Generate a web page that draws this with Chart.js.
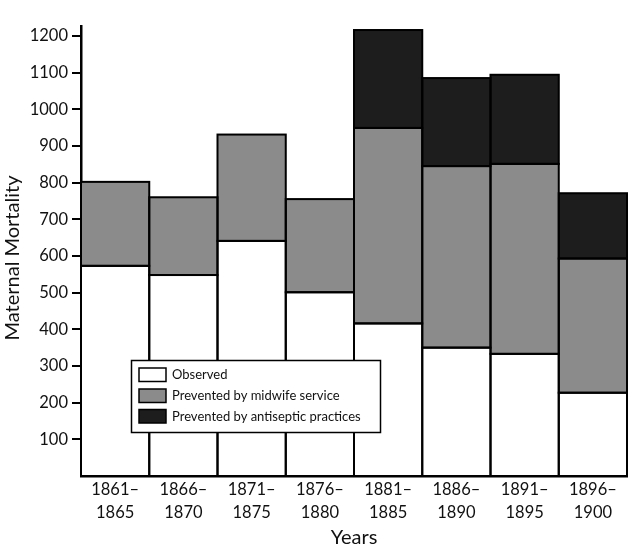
<!DOCTYPE html>
<html>
<head>
<meta charset="utf-8">
<script src="https://cdn.jsdelivr.net/npm/chart.js@4"></script>
<style>
  html, body { margin: 0; padding: 0; background: #fff; }
  #wrap { width: 640px; height: 551px; position: relative; }
</style>
</head>
<body>
<div id="wrap"><canvas id="c" width="640" height="551"></canvas></div>
<script>
const categories = [["1861–","1865"],["1866–","1870"],["1871–","1875"],["1876–","1880"],["1881–","1885"],["1886–","1890"],["1891–","1895"],["1896–","1900"]];
const observed = [573, 548, 641, 501, 416, 350, 333, 227];
const preventedMidwife = [229, 212, 290, 254, 533, 495, 518, 366];
const preventedAntiseptic = [null, null, null, null, 267, 240, 243, 178];
const seriesNames = ["Observed", "Prevented by midwife service", "Prevented by antiseptic practices"];
const seriesColors = ["#ffffff", "#8b8b8b", "#1d1d1d"];
const yTicks = [100, 200, 300, 400, 500, 600, 700, 800, 900, 1000, 1100, 1200];
const yTitle = "Maternal Mortality";

const FONT = "Lato";

const barOutline = {
  id: 'barOutline',
  afterDatasetsDraw(chart) {
    const ctx = chart.ctx;
    ctx.save();
    ctx.strokeStyle = '#000';
    ctx.lineWidth = 2;
    chart.data.datasets.forEach((ds, i) => {
      const meta = chart.getDatasetMeta(i);
      meta.data.forEach((el, j) => {
        if (ds.data[j] === null || ds.data[j] === undefined) return;
        const p = el.getProps(['x', 'y', 'base', 'width'], true);
        const left = p.x - p.width / 2;
        const top = Math.min(p.y, p.base);
        const h = Math.abs(p.base - p.y);
        ctx.strokeRect(left, top, p.width, h);
      });
    });
    ctx.restore();
  }
};

const boxLegend = {
  id: 'boxLegend',
  afterDraw(chart) {
    const ctx = chart.ctx;
    ctx.save();
    // y axis title
    ctx.fillStyle = '#111';
    ctx.font = "20px " + FONT;
    ctx.textAlign = 'center';
    ctx.textBaseline = 'middle';
    ctx.translate(13, 258);
    ctx.rotate(-Math.PI / 2);
    ctx.fillText(yTitle, 0, 0);
    ctx.setTransform(1, 0, 0, 1, 0, 0);
    // legend
    ctx.fillStyle = '#fff';
    ctx.strokeStyle = '#000';
    ctx.lineWidth = 1.5;
    ctx.fillRect(131.5, 360.5, 249, 72);
    ctx.strokeRect(131.5, 360.5, 249, 72);
    const rows = [368, 389, 409.5];
    ctx.font = "13px " + FONT;
    ctx.textBaseline = 'middle';
    ctx.textAlign = 'left';
    chart.data.datasets.forEach((ds, i) => {
      ctx.fillStyle = ds.backgroundColor;
      ctx.fillRect(139, rows[i], 27, 13.5);
      ctx.strokeRect(139, rows[i], 27, 13.5);
      ctx.fillStyle = '#111';
      ctx.fillText(ds.label, 172, rows[i] + 7);
    });
    ctx.restore();
  }
};

new Chart(document.getElementById('c'), {
  type: 'bar',
  data: {
    labels: categories,
    datasets: [
      { label: seriesNames[0], data: observed, backgroundColor: seriesColors[0] },
      { label: seriesNames[1], data: preventedMidwife, backgroundColor: seriesColors[1] },
      { label: seriesNames[2], data: preventedAntiseptic, backgroundColor: seriesColors[2] }
    ]
  },
  options: {
    responsive: false,
    animation: false,
    layout: { padding: { top: 26, right: 13, bottom: 1, left: 0 } },
    datasets: { bar: { barPercentage: 1, categoryPercentage: 1, borderWidth: 0 } },
    plugins: { legend: { display: false }, tooltip: { enabled: false } },
    scales: {
      x: {
        stacked: true,
        grid: { display: false, drawTicks: false },
        border: { display: true, color: '#000', width: 2.5 },
        ticks: { color: '#111', padding: 3, font: { family: FONT, size: 16.5, lineHeight: 1.35 }, maxRotation: 0, autoSkip: false },
        title: { display: true, text: 'Years', color: '#111', font: { family: FONT, size: 20, lineHeight: 1.2 }, padding: 0 },
        afterFit(scale) { scale.height = 74; }
      },
      y: {
        stacked: true,
        min: 0,
        max: 1227,
        afterBuildTicks(scale) { scale.ticks = yTicks.map(v => ({ value: v })); },
        grid: { drawOnChartArea: false, drawTicks: true, tickLength: 9, lineWidth: 2, color: '#000' },
        border: { display: true, color: '#000', width: 2.5 },
        ticks: { color: '#111', padding: 4, font: { family: FONT, size: 16.5 }, callback: (v) => String(v) },
        title: { display: false },
        afterFit(scale) { scale.width = 81; }
      }
    }
  },
  plugins: [barOutline, boxLegend]
});
</script>
</body>
</html>
